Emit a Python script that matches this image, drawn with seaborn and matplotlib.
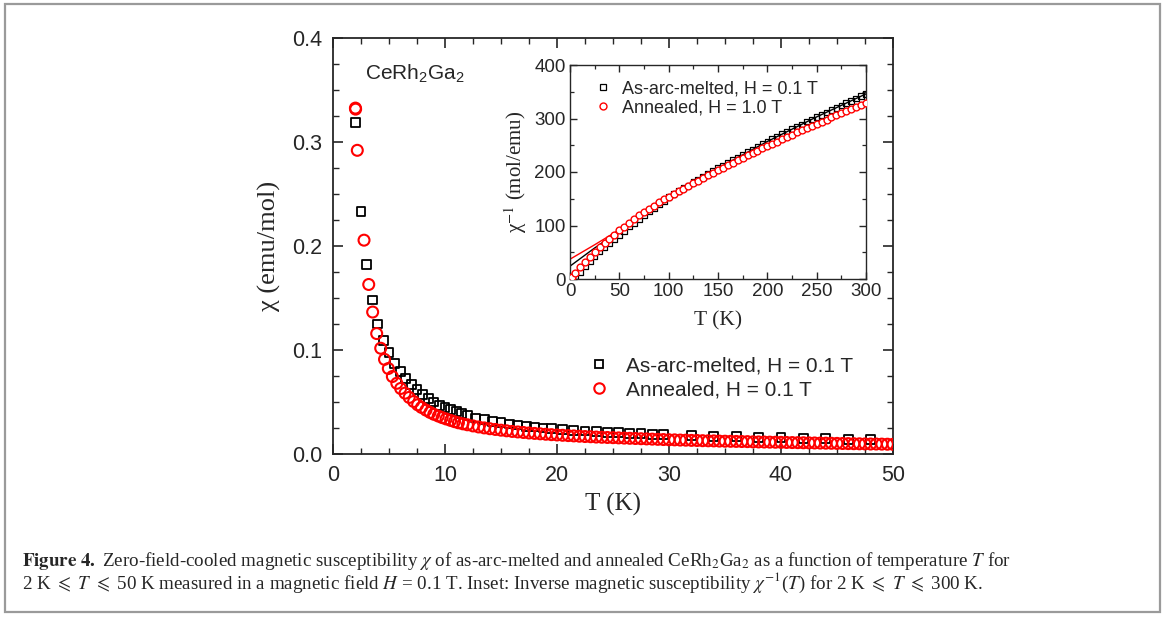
import numpy as np
import pandas as pd
import matplotlib
matplotlib.use("Agg")
import matplotlib.pyplot as plt
import seaborn as sns
from matplotlib.patches import Rectangle
from matplotlib.lines import Line2D
from matplotlib.ticker import MultipleLocator

# ---------------- data ----------------
T_arc = [2.0, 2.5, 3.0, 3.5, 4.0, 4.5, 5.0, 5.5, 6.0, 6.5, 7.0, 7.5, 8.0, 8.5, 9.0,
         9.5, 10.0, 10.5, 11.0, 11.5, 12.0, 12.75, 13.5, 14.25, 15.0, 15.75, 16.5,
         17.25, 18.0, 18.75, 19.5, 20.5, 21.5, 22.5, 23.5, 24.5, 25.5, 26.5, 27.5,
         28.5, 29.5, 32, 34, 36, 38, 40, 42, 44, 46, 48]
chi_arc = [0.319, 0.233, 0.182, 0.148, 0.125, 0.109, 0.0975, 0.087, 0.079, 0.0726,
           0.067, 0.0617, 0.0575, 0.0535, 0.050, 0.047, 0.0448, 0.0425, 0.0405,
           0.0386, 0.0369, 0.0347, 0.0329, 0.0314, 0.0300, 0.0288, 0.0278, 0.0268,
           0.0259, 0.0251, 0.0244, 0.0236, 0.0228, 0.0221, 0.0215, 0.0209, 0.0204,
           0.0199, 0.0194, 0.0190, 0.0186, 0.0177, 0.0171, 0.0165, 0.0160, 0.0155,
           0.0150, 0.0146, 0.0142, 0.0138]

T_ann = [2.0, 2.02, 2.17, 2.77, 3.19, 3.54, 3.9, 4.26, 4.6, 4.94, 5.3, 5.7, 6.04,
         6.43, 6.8, 7.2, 7.56, 7.9, 8.3, 8.66, 9.0, 9.4, 9.75, 10.1, 10.5, 10.85,
         11.2, 11.6, 12.0, 12.5, 13.0, 13.5, 14.0, 14.5, 15.0, 15.5, 16.0, 16.5,
         17.0, 17.5, 18.0, 18.5, 19.0, 19.5, 20.0, 20.5, 21.0, 21.5, 22.0, 22.5,
         23.0, 23.5, 24.0, 24.5, 25.0, 25.5, 26.0, 26.5, 27.0, 27.5, 28.0, 28.5,
         29.0, 29.5, 30.0, 30.5, 31.0, 31.5, 32.0, 32.5, 33.0, 33.5, 34.0, 34.5,
         35.0, 35.5, 36.0, 36.5, 37.0, 37.5, 38.0, 38.5, 39.0, 39.5, 40.0, 40.5,
         41.0, 41.5, 42.0, 42.5, 43.0, 43.5, 44.0, 44.5, 45.0, 45.5, 46.0, 46.5,
         47.0, 47.5, 48.0, 48.5, 49.0, 49.5, 50.0]
chi_ann = [0.3326, 0.3316, 0.292, 0.2056, 0.163, 0.1365, 0.1158, 0.1017, 0.091,
           0.0822, 0.0745, 0.068, 0.063, 0.0585, 0.0544, 0.0505, 0.0473, 0.0448,
           0.0422, 0.0400, 0.0382, 0.0365, 0.0350, 0.0337, 0.0323, 0.0311, 0.0300,
           0.0290, 0.0281, 0.0270, 0.0260, 0.0251, 0.0243, 0.0236, 0.0229, 0.0223,
           0.0217, 0.0212, 0.0207, 0.0202, 0.0198, 0.0194, 0.0190, 0.0186, 0.0183,
           0.0180, 0.0177, 0.0174, 0.0171, 0.0168, 0.0166, 0.0163, 0.0161, 0.0159,
           0.0157, 0.0155, 0.0153, 0.0151, 0.0149, 0.0147, 0.0145, 0.0143, 0.0141,
           0.0139, 0.0137, 0.0136, 0.0134, 0.0133, 0.0131, 0.0130, 0.0128, 0.0127,
           0.0126, 0.0124, 0.0123, 0.0122, 0.0121, 0.0120, 0.0119, 0.0117, 0.0116,
           0.0115, 0.0114, 0.0113, 0.0112, 0.0111, 0.0110, 0.0109, 0.0108, 0.0107,
           0.0106, 0.0105, 0.0104, 0.0103, 0.0102, 0.0101, 0.0100, 0.0099, 0.0098,
           0.0097, 0.0096, 0.0096, 0.0095, 0.0094, 0.0093]

# inset: inverse susceptibility
Ti_arc = [2, 5, 10, 15, 20, 25, 30, 35, 40, 45, 50, 55, 60, 65, 70, 75, 80, 85, 90,
          95, 100, 105, 110, 115, 120, 125, 130, 135, 140, 145, 150, 155, 160, 165,
          170, 175, 180, 185, 190, 195, 200, 205, 210, 215, 220, 225, 230, 235, 240,
          245, 250, 255, 260, 265, 270, 275, 280, 285, 290, 295, 300]
inv_arc = [3, 6, 13, 23, 33, 42, 51, 59, 66, 74, 82, 90, 98, 105, 112, 119, 126,
           133, 140, 146, 153, 159, 164, 170, 175, 181, 186, 191, 197, 202, 207,
           212, 217, 222, 227, 232, 237, 242, 247, 252, 257, 262, 266, 271, 276,
           280, 285, 289, 294, 298, 303, 307, 311, 316, 320, 324, 329, 333, 337,
           342, 346]
Ti_ann = [2, 5, 10, 15, 20, 25, 30, 35, 40, 45, 50, 55, 60, 65, 70, 75, 80, 85, 90,
          95, 100, 105, 110, 115, 120, 125, 130, 135, 140, 145, 150, 155, 160, 165,
          170, 175, 180, 185, 190, 195, 200, 205, 210, 215, 220, 225, 230, 235, 240,
          245, 250, 255, 260, 265, 270, 275, 280, 285, 290, 295, 300]
inv_ann = [4, 12, 22, 32, 42, 51, 59, 67, 75, 83, 91, 98, 105, 112, 119, 125, 131,
           137, 143, 149, 154, 159, 164, 169, 174, 179, 184, 189, 194, 199, 204,
           208, 213, 217, 222, 226, 231, 235, 240, 244, 249, 253, 257, 261, 266,
           270, 274, 278, 282, 286, 290, 294, 298, 302, 306, 310, 314, 318, 321,
           325, 329]
# Curie-Weiss fit lines
Tfit = [0, 25, 50, 100, 150, 200, 250, 300]
fit_arc = [24, 58, 90, 153, 207, 257, 303, 346]
fit_ann = [37, 64, 92, 154, 204, 249, 290, 329]

main_labels = ["As-arc-melted, H = 0.1 T", "Annealed, H = 0.1 T"]
inset_labels = ["As-arc-melted, H = 0.1 T", "Annealed, H = 1.0 T"]

# ---------------- style ----------------
sns.set_style("ticks")
plt.rcParams.update({
    "font.family": ["Liberation Sans", "DejaVu Sans"],
    "mathtext.fontset": "custom",
    "mathtext.rm": "Liberation Sans",
    "mathtext.it": "Liberation Sans:italic",
    "mathtext.bf": "Liberation Sans:bold",
    "mathtext.fallback": "stix",
    "axes.linewidth": 1.3,
    "xtick.direction": "in", "ytick.direction": "in",
    "xtick.top": True, "ytick.right": True,
})

W, H = 1165, 617
fig = plt.figure(figsize=(W / 100, H / 100), dpi=100)

def fx(px):
    return px / W

def fy(py):
    return 1 - py / H

ax = fig.add_axes([fx(333), fy(454), fx(893) - fx(333), fy(38) - fy(454)])

df_arc = pd.DataFrame({"T": T_arc, "chi": chi_arc})
df_ann = pd.DataFrame({"T": T_ann, "chi": chi_ann})
sns.scatterplot(data=df_arc, x="T", y="chi", ax=ax, marker="s", s=40,
                facecolors="none", edgecolor="black", linewidth=1.3, zorder=3)
sns.scatterplot(data=df_ann, x="T", y="chi", ax=ax, marker="o", s=62,
                facecolors="none", edgecolor="#ff0000", linewidth=1.5, zorder=4)
ax.set_xlim(0, 50)
ax.set_ylim(0, 0.4)
ax.xaxis.set_major_locator(MultipleLocator(10))
ax.xaxis.set_minor_locator(MultipleLocator(2.5))
ax.yaxis.set_major_locator(MultipleLocator(0.1))
ax.yaxis.set_minor_locator(MultipleLocator(0.025))
ax.set_yticks([0, 0.1, 0.2, 0.3, 0.4])
ax.set_yticklabels(["0.0", "0.1", "0.2", "0.3", "0.4"])
ax.tick_params(which="major", length=7, width=1.2, labelsize=15.5, pad=8,
               top=True, right=True, direction="in")
ax.tick_params(which="minor", length=4, width=1.0, top=True, right=True,
               direction="in")
ax.set_xlabel("T (K)", family="Liberation Serif", fontsize=18, labelpad=5)
ax.set_ylabel("χ (emu/mol)", family="Liberation Serif", fontsize=19, labelpad=8)
ax.text(0.058, 0.915, "CeRh$_2$Ga$_2$", transform=ax.transAxes, fontsize=15,
        ha="left", va="center")

h_main = [Line2D([], [], ls="none", marker="s", ms=6, mfc="none", mec="black", mew=1.3),
          Line2D([], [], ls="none", marker="o", ms=7.5, mfc="none", mec="#ff0000", mew=1.5)]
ax.legend(h_main, main_labels, loc="upper left",
          bbox_to_anchor=(fx(582), fy(348)), bbox_transform=fig.transFigure,
          frameon=False, fontsize=15, handlelength=0.8, handletextpad=0.9,
          labelspacing=0.25, borderaxespad=0)

# ---------------- inset ----------------
axi = fig.add_axes([fx(570), fy(279), fx(866) - fx(570), fy(65) - fy(279)])
dfi_arc = pd.DataFrame({"T": Ti_arc, "inv": inv_arc})
dfi_ann = pd.DataFrame({"T": Ti_ann, "inv": inv_ann})
dff = pd.DataFrame({"T": Tfit + Tfit, "inv": fit_arc + fit_ann,
                    "s": ["arc"] * len(Tfit) + ["ann"] * len(Tfit)})
sns.lineplot(data=dff, x="T", y="inv", hue="s", palette={"arc": "black", "ann": "#ff0000"},
             ax=axi, linewidth=1.0, legend=False, zorder=2)
sns.scatterplot(data=dfi_arc, x="T", y="inv", ax=axi, marker="s", s=16,
                facecolors="none", edgecolor="black", linewidth=0.9, zorder=3)
sns.scatterplot(data=dfi_ann, x="T", y="inv", ax=axi, marker="o", s=24,
                facecolors="white", edgecolor="#ff0000", linewidth=1.0, zorder=4)
axi.set_xlim(0, 300)
axi.set_ylim(0, 400)
axi.xaxis.set_major_locator(MultipleLocator(50))
axi.xaxis.set_minor_locator(MultipleLocator(25))
axi.yaxis.set_major_locator(MultipleLocator(100))
axi.yaxis.set_minor_locator(MultipleLocator(50))
axi.tick_params(which="major", length=5, width=1.0, labelsize=13.5, pad=3,
                top=True, right=True, direction="in")
axi.tick_params(which="minor", length=3, width=0.9, top=True, right=True,
                direction="in")
for sp in axi.spines.values():
    sp.set_linewidth(1.0)
axi.set_xlabel("T (K)", family="Liberation Serif", fontsize=15.5, labelpad=8)
axi.set_ylabel("χ$^{-1}$ (mol/emu)", family="Liberation Serif", fontsize=15,
               labelpad=4, math_fontfamily="stix")
h_in = [Line2D([], [], ls="none", marker="s", ms=4.2, mfc="none", mec="black", mew=0.9),
        Line2D([], [], ls="none", marker="o", ms=5, mfc="none", mec="#ff0000", mew=1.0)]
axi.legend(h_in, inset_labels, loc="upper left",
           bbox_to_anchor=(fx(590), fy(73)), bbox_transform=fig.transFigure,
           frameon=False, fontsize=13, handlelength=0.6, handletextpad=0.8,
           labelspacing=0.12, borderaxespad=0)

# ---------------- caption & frame ----------------
cap1 = (r"$\mathbf{Figure\ 4.}$ Zero-field-cooled magnetic susceptibility $\chi$ of "
        r"as-arc-melted and annealed CeRh$_2$Ga$_2$ as a function of temperature $T$ for")
cap2 = (r"2 K $\leqslant$ $T$ $\leqslant$ 50 K measured in a magnetic field $H$ = 0.1 T. "
        r"Inset: Inverse magnetic susceptibility $\chi^{-1}$($T$) for 2 K $\leqslant$ "
        r"$T$ $\leqslant$ 300 K.")
for txt, yy in [(cap1, 561), (cap2, 583)]:
    fig.text(fx(22), fy(yy), txt, family="Liberation Serif", fontsize=13.7,
             ha="left", va="center", math_fontfamily="stix")

fig.patches.append(Rectangle((fx(5), fy(612)), fx(1160) - fx(5), fy(4) - fy(612),
                             transform=fig.transFigure, fill=False,
                             edgecolor="#9a9a9a", linewidth=1.6))

fig.savefig("out.png", dpi=100)
